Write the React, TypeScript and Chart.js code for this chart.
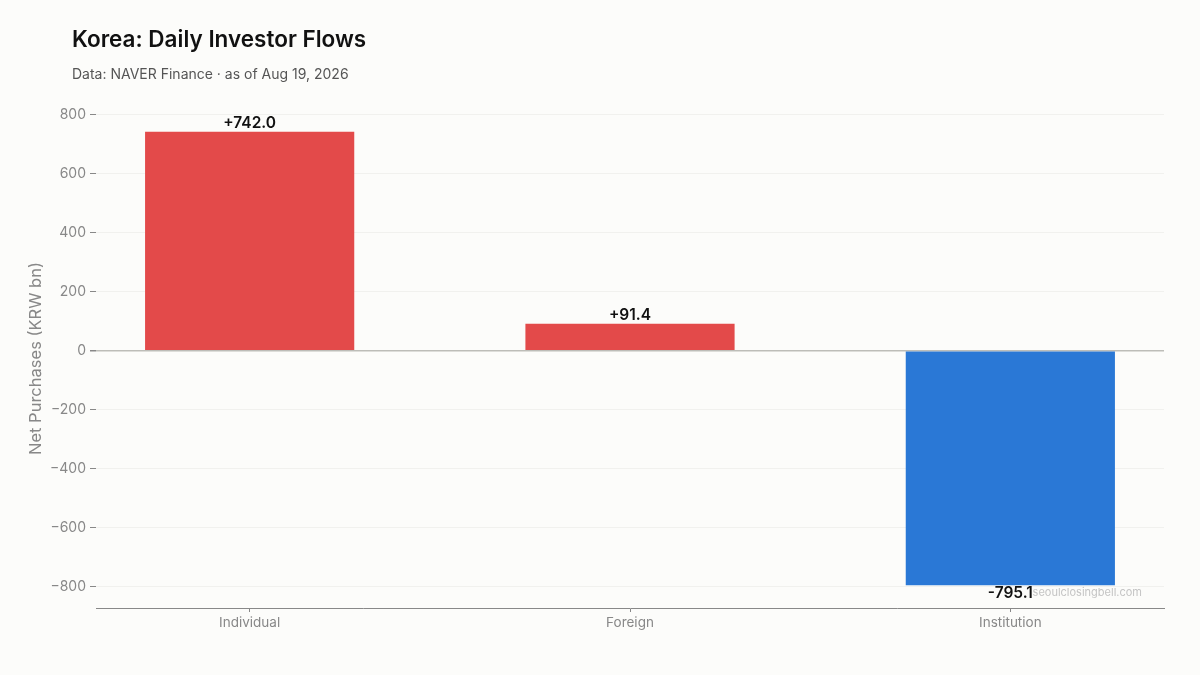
import React, { useRef, useEffect } from "react";
import { Chart, registerables } from "chart.js";

Chart.register(...registerables);

const categories = ["Individual", "Foreign", "Institution"];
const netPurchases = [742.0, 91.4, -795.1];
const yTicks = [-800, -600, -400, -200, 0, 200, 400, 600, 800];

const RED = "#e34a4a";
const BLUE = "#2a78d6";
const FONT = "Inter, 'Noto Sans', sans-serif";

const valueLabels = {
  id: "valueLabels",
  afterDatasetsDraw(chart: any) {
    const ctx = chart.ctx;
    const meta = chart.getDatasetMeta(0);
    ctx.save();
    ctx.font = `600 15.5px ${FONT}`;
    ctx.fillStyle = "#111";
    ctx.textAlign = "center";
    meta.data.forEach((bar: any, i: number) => {
      const v = netPurchases[i];
      const txt = (v >= 0 ? "+" : "-") + Math.abs(v).toFixed(1);
      if (v >= 0) {
        ctx.textBaseline = "bottom";
        ctx.fillText(txt, bar.x, bar.y - 1);
      } else {
        ctx.textBaseline = "top";
        ctx.fillText(txt, bar.x, bar.y + 0.5);
      }
    });
    // watermark
    const area = chart.chartArea;
    ctx.font = `11px ${FONT}`;
    ctx.fillStyle = "#c4c4c4";
    ctx.textAlign = "right";
    ctx.textBaseline = "middle";
    ctx.fillText("seoulclosingbell.com", area.right - 22, area.bottom - 15);
    ctx.restore();
  },
};

const BarChart = () => {
  const chartRef = useRef<any>(null);
  const chartInstanceRef = useRef<any>(null);

  useEffect(() => {
    const ctx = chartRef.current.getContext("2d");
    if (chartInstanceRef.current) {
      chartInstanceRef.current.destroy();
    }

    const lo = Math.min(...netPurchases);
    const hi = Math.max(...netPurchases);
    const pad = (hi - lo) * 0.05;

    chartInstanceRef.current = new Chart(ctx, {
      type: "bar",
      data: {
        datasets: [
          {
            data: netPurchases.map((v, i) => ({ x: i, y: v })),
            backgroundColor: netPurchases.map((v) => (v >= 0 ? RED : BLUE)),
            barPercentage: 0.55,
            categoryPercentage: 1,
            borderWidth: 0,
          },
        ],
      },
      options: {
        animation: false,
        responsive: false,
        layout: { padding: { top: 109, right: 36, left: 0, bottom: 0 } },
        plugins: {
          legend: { display: false },
          tooltip: { enabled: false },
        },
        scales: {
          x: {
            type: "linear",
            offset: false,
            min: -0.404,
            max: categories.length - 1 + 0.404,
            afterBuildTicks: (scale: any) => {
              scale.ticks = categories.map((_, i) => ({ value: i }));
            },
            afterFit: (scale: any) => {
              scale.height = 675 - 608;
            },
            ticks: {
              callback: (v: any) => categories[v] ?? "",
              color: "#888",
              font: { family: FONT, size: 13.5 },
              padding: 3,
              maxRotation: 0,
            },
            grid: {
              offset: false,
              drawOnChartArea: false,
              tickLength: 4,
              tickColor: "#888",
            },
            border: { color: "#888", width: 1 },
          },
          y: {
            min: lo - pad,
            max: hi + pad,
            afterBuildTicks: (scale: any) => {
              scale.ticks = yTicks.map((v) => ({ value: v }));
            },
            afterFit: (scale: any) => {
              scale.width = 96;
            },
            ticks: {
              callback: (v: any) => (v < 0 ? "\u2212" + Math.abs(v) : String(v)),
              color: "#888",
              font: { family: FONT, size: 14 },
              padding: 4,
            },
            grid: {
              color: (c: any) => (c.tick && c.tick.value === 0 ? "#bdbdb8" : "#f1f1ee"),
              lineWidth: (c: any) => (c.tick && c.tick.value === 0 ? 1.5 : 1),
              tickLength: 6,
              tickColor: "#888",
            },
            border: { display: false },
            title: {
              display: true,
              text: "Net Purchases (KRW bn)",
              color: "#888",
              font: { family: FONT, size: 16.5 },
              padding: { top: 26, bottom: 0 },
            },
          },
        },
      },
      plugins: [valueLabels],
    });

    return () => {
      if (chartInstanceRef.current) {
        chartInstanceRef.current.destroy();
      }
    };
  }, []);

  return <canvas ref={chartRef} width={1200} height={675} style={{ display: "block" }} />;
};

export default function App() {
  useEffect(() => {
    document.body.style.margin = "0";
    document.body.style.background = "#fcfcfa";
  }, []);
  return (
    <div style={{ position: "relative", width: 1200, height: 675, background: "#fcfcfa", fontFamily: FONT }}>
      <BarChart />
      <div style={{ position: "absolute", left: 72, top: 25, fontSize: 22.5, fontWeight: 600, color: "#111" }}>
        Korea: Daily Investor Flows
      </div>
      <div style={{ position: "absolute", left: 72, top: 65, fontSize: 14, color: "#555" }}>
        Data: NAVER Finance · as of Aug 19, 2026
      </div>
    </div>
  );
}
